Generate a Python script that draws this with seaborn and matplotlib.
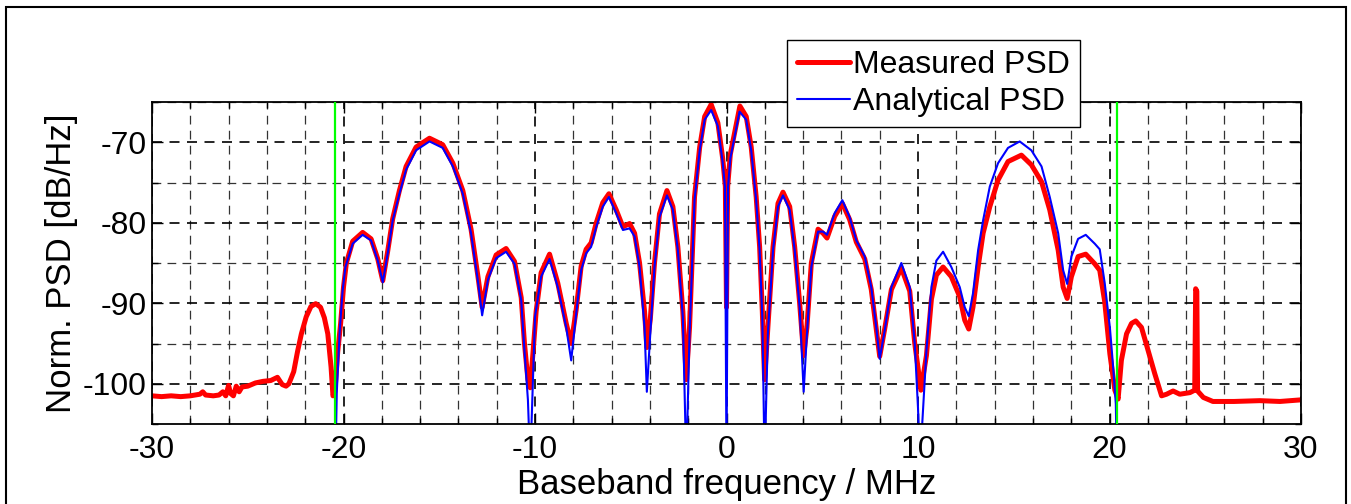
# =========================================
# PSD comparison plot: measured vs analytical
# =========================================

import numpy as np
import matplotlib
matplotlib.use("Agg")
import matplotlib.pyplot as plt
import seaborn as sns
from matplotlib.patches import Rectangle
from matplotlib.ticker import MultipleLocator


# =========================================
# 1. Data
# =========================================

# measured PSD (red)
freq_meas = [
    -30.0, -29.5, -29.0, -28.5, -28.0, -27.5, -27.35, -27.2, -26.8, -26.5,
    -26.3, -26.15, -26.0, -25.9, -25.75, -25.6, -25.45, -25.3, -25.0, -24.6,
    -24.2, -23.8, -23.45, -23.2, -23.0, -22.85, -22.6, -22.4, -22.2, -21.95,
    -21.7, -21.45, -21.2, -21.0, -20.82, -20.65, -20.55, -20.45, -20.3, -20.15,
    -20.0, -19.85, -19.52, -19.0, -18.56, -18.21, -17.95, -17.69, -17.43, -17.08,
    -16.73, -16.21, -15.51, -14.82, -14.29, -13.77, -13.34, -12.99, -12.76, -12.46,
    -12.03, -11.51, -11.07, -10.72, -10.55, -10.37, -10.25, -10.1, -9.94, -9.68,
    -9.24, -8.81, -8.37, -8.11, -7.85, -7.59, -7.33, -7.07, -6.80, -6.46,
    -6.14, -5.76, -5.41, -5.06, -4.80, -4.54, -4.28, -4.16, -3.98, -3.76,
    -3.50, -3.11, -2.80, -2.54, -2.28, -2.1, -1.93, -1.67, -1.40, -1.14,
    -0.80, -0.45, -0.2, -0.06, 0.0, 0.06, 0.2, 0.70, 1.03, 1.29,
    1.55, 1.73, 1.87, 1.99, 2.16, 2.43, 2.69, 2.95, 3.30, 3.56,
    3.82, 4.03, 4.20, 4.43, 4.78, 5.04, 5.25, 5.65, 6.05, 6.43,
    6.78, 7.22, 7.56, 7.82, 8.0, 8.26, 8.61, 9.13, 9.57, 9.83,
    10.0, 10.15, 10.44, 10.70, 10.96, 11.31, 11.74, 12.18, 12.44, 12.65,
    12.87, 13.14, 13.40, 13.75, 14.18, 14.70, 15.40, 15.92, 16.45, 16.88,
    17.32, 17.58, 17.79, 18.01, 18.36, 18.76, 19.23, 19.49, 19.75, 20.02,
    20.28, 20.45, 20.62, 20.89, 21.15, 21.37, 21.67, 22.02, 22.37, 22.72,
    22.98, 23.32, 23.67, 24.2, 24.45, 24.5, 24.56, 24.6, 24.9, 25.4,
    26.5, 27.85, 28.9, 30.0,
]
psd_meas = [
    -101.5, -101.6, -101.5, -101.6, -101.5, -101.3, -101.0, -101.4, -101.5, -101.4,
    -101.0, -101.5, -100.2, -101.2, -101.5, -100.3, -101.0, -100.4, -100.3, -99.9,
    -99.7, -99.6, -99.2, -100.1, -100.3, -100.0, -98.5, -96.0, -93.8, -91.7,
    -90.4, -90.05, -90.5, -91.8, -93.8, -97.9, -101.5, -101.0, -96.0, -92.5,
    -88.0, -85.0, -82.3, -81.2, -82.0, -84.5, -87.2, -83.5, -79.5, -76.0,
    -73.0, -70.6, -69.5, -70.3, -72.6, -76.0, -80.8, -86.5, -90.5, -86.7,
    -84.0, -83.2, -84.8, -89.3, -95.0, -99.5, -100.5, -96.0, -91.0, -86.2,
    -83.9, -87.5, -92.5, -95.0, -90.8, -85.4, -83.3, -82.5, -80.0, -77.5,
    -76.4, -78.4, -80.5, -80.1, -81.3, -85.0, -91.0, -95.5, -92.0, -85.0,
    -78.9, -76.0, -78.0, -83.0, -91.0, -99.5, -93.0, -76.8, -70.6, -66.8,
    -65.3, -67.6, -72.0, -75.5, -90.5, -75.5, -71.5, -65.5, -66.8, -70.6,
    -76.8, -83.0, -91.0, -99.5, -93.0, -83.0, -77.6, -76.2, -78.0, -83.0,
    -90.0, -96.5, -93.0, -85.0, -80.8, -81.3, -81.9, -79.2, -77.6, -79.6,
    -82.4, -84.5, -88.3, -93.2, -96.6, -93.2, -88.3, -85.6, -88.5, -95.0,
    -98.0, -100.8, -96.5, -89.5, -86.5, -85.5, -86.7, -89.2, -92.1, -93.2,
    -90.5, -85.5, -81.3, -78.0, -74.7, -72.4, -71.6, -72.8, -74.9, -78.4,
    -83.4, -88.0, -89.4, -86.7, -84.2, -83.9, -85.1, -85.9, -89.8, -96.3,
    -100.8, -101.9, -97.1, -93.8, -92.5, -92.2, -93.0, -95.9, -98.8, -101.5,
    -101.3, -100.9, -101.3, -101.1, -100.8, -88.2, -88.5, -100.9, -101.7, -102.2,
    -102.2, -102.1, -102.2, -102.0,
]

# analytical PSD (blue)
freq_ana = [
    -20.42, -20.35, -20.2, -20.05, -19.9, -19.52, -19.0, -18.56, -18.21, -17.95,
    -17.69, -17.43, -17.08, -16.73, -16.21, -15.51, -14.82, -14.29, -13.77, -13.34,
    -12.99, -12.76, -12.46, -12.03, -11.51, -11.07, -10.72, -10.55, -10.37, -10.25,
    -10.0, -9.68, -9.24, -8.81, -8.37, -8.11, -7.85, -7.59, -7.33, -7.07,
    -6.80, -6.46, -6.14, -5.76, -5.41, -5.06, -4.80, -4.54, -4.28, -4.16,
    -3.98, -3.76, -3.50, -3.11, -2.80, -2.54, -2.28, -2.1, -1.93, -1.67,
    -1.40, -1.14, -0.80, -0.45, -0.2, -0.08, 0.0, 0.08, 0.2, 0.68,
    1.03, 1.29, 1.55, 1.73, 1.87, 1.99, 2.16, 2.43, 2.69, 2.95,
    3.30, 3.56, 3.82, 4.03, 4.20, 4.43, 4.78, 5.04, 5.25, 5.65,
    6.05, 6.43, 6.78, 7.22, 7.56, 7.82, 8.0, 8.26, 8.61, 9.13,
    9.57, 9.83, 10.0, 10.1, 10.44, 10.70, 10.96, 11.31, 11.74, 12.18,
    12.44, 12.65, 12.87, 13.14, 13.40, 13.75, 14.18, 14.70, 15.31, 15.92,
    16.45, 16.88, 17.32, 17.58, 17.79, 18.01, 18.36, 18.76, 19.23, 19.49,
    19.75, 20.02, 20.19, 20.33, 20.38,
]
psd_ana = [
    -110.0, -101.0, -93.5, -88.5, -85.5, -82.6, -81.5, -82.2, -84.7, -87.4,
    -83.8, -79.7, -76.4, -73.4, -71.0, -69.9, -70.7, -73.0, -76.4, -81.3,
    -87.1, -91.5, -87.1, -84.4, -83.6, -85.1, -89.6, -95.9, -102.0, -110.0,
    -91.7, -86.7, -84.5, -88.0, -93.0, -97.1, -91.3, -85.9, -83.8, -83.0,
    -80.5, -78.0, -76.8, -78.8, -80.9, -80.7, -81.7, -85.5, -93.0, -101.0,
    -93.8, -85.5, -79.3, -76.6, -78.4, -83.4, -91.7, -110.0, -93.8, -77.2,
    -71.0, -67.2, -66.0, -68.0, -72.5, -75.5, -110.0, -75.5, -72.0, -66.2,
    -67.2, -71.0, -77.2, -83.4, -91.7, -110.0, -93.8, -83.4, -78.0, -76.6,
    -78.4, -83.4, -90.5, -101.0, -93.8, -85.5, -81.1, -81.1, -81.5, -78.8,
    -77.2, -79.3, -82.2, -84.2, -88.0, -93.0, -96.9, -93.4, -88.0, -85.0,
    -88.0, -95.0, -103.0, -110.0, -95.9, -88.0, -84.7, -83.6, -85.5, -88.0,
    -90.5, -91.6, -88.8, -83.4, -79.7, -75.5, -72.6, -70.7, -69.9, -71.0,
    -73.0, -76.8, -81.3, -85.9, -87.6, -84.2, -82.0, -81.5, -82.6, -83.3,
    -87.5, -93.0, -97.9, -102.5, -110.0,
]

# band edge markers (green)
band_edges = [-20.45, 20.4]


# =========================================
# 2. Style
# =========================================

sns.set_style("white")
plt.rcParams['font.family'] = ['Liberation Sans', 'DejaVu Sans']
plt.rcParams['axes.unicode_minus'] = False
plt.rcParams['text.color'] = 'black'
plt.rcParams['axes.labelcolor'] = 'black'

W, H = 1351, 504
fig = plt.figure(figsize=(W / 100, H / 100), dpi=100)
ax = fig.add_axes([152 / W, 80 / H, (1301 - 152) / W, (424 - 102) / H])


# =========================================
# 3. Curves
# =========================================

sns.lineplot(x=freq_meas, y=psd_meas, color='#ff0000', lw=3.6, ax=ax,
             label='Measured PSD', sort=False, estimator=None, zorder=2)
sns.lineplot(x=freq_ana, y=psd_ana, color='#0000ff', lw=1.5, ax=ax,
             label='Analytical PSD', sort=False, estimator=None, zorder=2.5)

for f in band_edges:
    ax.axvline(f, color='#00ff00', lw=1.6, zorder=3)


# =========================================
# 4. Axes, ticks, grid
# =========================================

ax.set_xlim(-30, 30)
ax.set_ylim(-105, -65)
ax.xaxis.set_major_locator(MultipleLocator(10))
ax.xaxis.set_minor_locator(MultipleLocator(2))
ax.yaxis.set_major_locator(MultipleLocator(10))
ax.yaxis.set_minor_locator(MultipleLocator(5))

ax.tick_params(which='both', direction='in', top=True, right=True,
               bottom=True, left=True, colors='black', labelcolor='black',
               labelsize=23)
ax.tick_params(which='major', length=8, width=1)
ax.tick_params(axis='x', which='major', pad=8)
ax.tick_params(axis='y', which='major', pad=4)
ax.tick_params(which='minor', length=4, width=1)

ax.grid(which='major', color='black', ls=(0, (6, 4.5)), lw=1.2)
ax.grid(which='minor', color='0.2', ls=(0, (7, 5)), lw=0.9)
ax.set_axisbelow(True)

for sp in ax.spines.values():
    sp.set_color('black')
    sp.set_linewidth(1.3)

ax.set_xlabel('Baseband frequency / MHz', fontsize=25, labelpad=2,
              color='black')
ax.set_ylabel('Norm. PSD [dB/Hz]', fontsize=25, labelpad=3, color='black')


# =========================================
# 5. Legend and outer frame
# =========================================

leg = ax.legend(loc='upper left', bbox_to_anchor=(787 / W, 1 - 40 / H),
                bbox_transform=fig.transFigure, frameon=True, fancybox=False,
                edgecolor='black', framealpha=1, fontsize=23,
                handlelength=1.65, handletextpad=0.1, borderpad=0.32,
                labelspacing=0.22, borderaxespad=0)
leg.get_frame().set_linewidth(1.0)
for t in leg.get_texts():
    t.set_color('black')

fig.patches.append(Rectangle((6 / W, -0.02), (1346 - 6) / W, (H - 7) / H + 0.02,
                             transform=fig.transFigure, fill=False,
                             ec='black', lw=1.5))

fig.savefig('out.png', dpi=100)
